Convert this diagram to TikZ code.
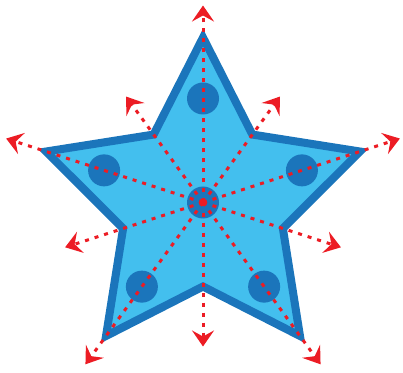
\documentclass[tikz,border=0pt]{standalone}
\usetikzlibrary{arrows.meta,calc}
\definecolor{starfill}{HTML}{43BFEE}
\definecolor{starline}{HTML}{1B75BB}
\definecolor{arrowred}{HTML}{EC1C24}
\begin{document}
\begin{tikzpicture}[x=1pt,y=1pt,
  starshape/.style={fill=starfill,draw=starline,line width=8pt,line join=miter},
  dot/.style={circle,fill=starline,minimum size=32pt,inner sep=0pt},
  ray/.style={draw=arrowred,line width=3pt,dash pattern=on 4pt off 6pt,
    -{Stealth[length=16pt,width=22pt,inset=6pt,fill=arrowred,color=arrowred]}}]
\useasboundingbox (0,0) rectangle (403,372);
\coordinate (c) at (203,169.5);
% star
\draw[starshape] ($(c)+(90:165)$) -- ($(c)+(54:84)$) -- ($(c)+(18:165)$) -- ($(c)+(-18:84)$)
  -- ($(c)+(-54:165)$) -- ($(c)+(-90:84)$) -- ($(c)+(-126:165)$) -- ($(c)+(-162:84)$)
  -- ($(c)+(162:165)$) -- ($(c)+(126:84)$) -- cycle;
% circles
\node[dot] (d0) at (c) {};
\node[dot] (d1) at ($(c)+(90:104)$) {};
\node[dot] (d2) at ($(c)+(18:104)$) {};
\node[dot] (d3) at ($(c)+(-54:104)$) {};
\node[dot] (d4) at ($(c)+(-126:104)$) {};
\node[dot] (d5) at ($(c)+(162:104)$) {};
% arrow ends
\coordinate (o1) at ($(c)+(90:197)$);
\coordinate (o2) at ($(c)+(18:207)$);
\coordinate (o3) at ($(c)+(-54:200)$);
\coordinate (o4) at ($(c)+(-126:200)$);
\coordinate (o5) at ($(c)+(162:207)$);
\coordinate (i1) at ($(c)+(126:131)$);
\coordinate (i2) at ($(c)+(54:131)$);
\coordinate (i3) at ($(c)+(-18:145)$);
\coordinate (i4) at ($(c)+(-90:144)$);
\coordinate (i5) at ($(c)+(-162:145)$);
\foreach \p in {o1,o2,o3,o4,o5,i1,i2,i3,i4,i5}
  \draw[ray] (c) -- (\p);
\end{tikzpicture}
\end{document}
